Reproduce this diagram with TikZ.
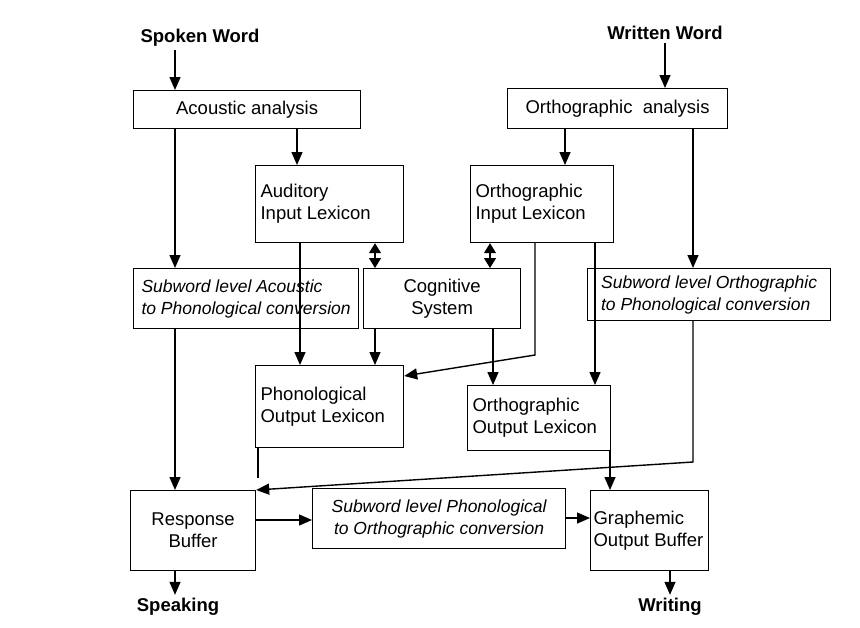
\documentclass[tikz,border=0pt]{standalone}
\usepackage{fontspec}
\setmainfont{Liberation Sans}
\usetikzlibrary{arrows.meta}
\begin{document}
\begin{tikzpicture}[x=1pt,y=-1pt,
  bx/.style={draw,line width=1.2pt,inner sep=0pt,font=\fontsize{18.5}{22}\selectfont},
  ibx/.style={bx,font=\fontsize{17.5}{22}\selectfont\itshape},
  ar/.style={line width=1.4pt,-{Triangle[length=13pt,width=11pt]}},
  dar/.style={line width=1.4pt,{Triangle[length=10pt,width=12pt]}-{Triangle[length=10pt,width=12pt]}},
  lbl/.style={font=\fontsize{18.5}{22}\selectfont\bfseries}]
\useasboundingbox (0,0) rectangle (860,627);
\node[lbl] (sw) at (200,38) {Spoken Word};
\node[lbl] (ww) at (665,33) {Written Word};
\node[lbl] (spk) at (178,607) {Speaking};
\node[lbl] (wri) at (670,607) {Writing};
\node[bx,anchor=north west,minimum width=227,minimum height=38] (aa) at (133,90) {Acoustic analysis};
\node[bx,anchor=north west,minimum width=220,minimum height=40] (oa) at (507,88) {Orthographic\ \ analysis};
\node[bx,anchor=north west,minimum width=148,minimum height=77,align=flush left,text width=138] (ail) at (255,165) {Auditory\\Input Lexicon};
\node[bx,anchor=north west,minimum width=143,minimum height=77,align=flush left,text width=133] (oil) at (470,165) {Orthographic\\Input Lexicon};
\node[ibx,anchor=north west,minimum width=225,minimum height=60,align=flush left] (swa) at (133,268) {Subword level Acoustic\\to Phonological conversion};
\node[ibx,anchor=north west,minimum width=243,minimum height=52,align=flush left] (swo) at (587,268) {Subword level Orthographic\\to Phonological conversion};
\node[bx,anchor=north west,minimum width=157,minimum height=60,align=center] (cs) at (363,268) {Cognitive\\System};
\node[bx,anchor=north west,minimum width=148,minimum height=82,align=flush left,text width=138] (pol) at (255,365) {Phonological\\Output Lexicon};
\node[bx,anchor=north west,minimum width=143,minimum height=65,align=flush left,text width=133] (ool) at (467,385) {Orthographic\\Output Lexicon};
\node[bx,anchor=north west,minimum width=125,minimum height=80,align=center] (rb) at (130,490) {Response\\Buffer};
\node[ibx,anchor=north west,minimum width=253,minimum height=60,align=center] (swp) at (312,488) {Subword level Phonological\\to Orthographic conversion};
\node[bx,anchor=north west,minimum width=118,minimum height=80,align=flush left,text width=112] (gob) at (590,490) {Graphemic\\Output Buffer};
\draw[ar] (sw.south -| 175,0) -- (aa.north -| 175,0);
\draw[ar] (ww.south) -- (oa.north -| 665,0);
\draw[ar] (aa.south -| 175,0) -- (swa.north -| 175,0);
\draw[ar] (aa.south -| 297,0) -- (ail.north -| 297,0);
\draw[ar] (oa.south -| 565,0) -- (oil.north -| 565,0);
\draw[ar] (oa.south -| 693,0) -- (swo.north -| 693,0);
\draw[ar] (ail.south -| 300,0) -- (pol.north -| 300,0);
\draw[dar] (ail.south -| 375,0) -- (cs.north -| 375,0);
\draw[dar] (oil.south -| 490,0) -- (cs.north -| 490,0);
\draw[ar] (cs.south -| 375,0) -- (pol.north -| 375,0);
\draw[ar] (cs.south -| 493,0) -- (ool.north -| 493,0);
\coordinate (k1) at (535,355);
\draw[ar] (oil.south -| 535,0) -- (k1) -- (pol.east |- 0,376);
\draw[ar] (oil.south -| 595,0) -- (ool.north -| 595,0);
\draw[ar] (swa.south -| 175,0) -- (rb.north -| 175,0);
\coordinate (k2) at (693,462);
\draw[ar] (swo.south -| 693,0) -- (k2) -- (rb.north east);
\coordinate (k3) at (258,478);
\draw[line width=1.4pt] (pol.south -| 258,0) -- (k3);
\draw[ar] (ool.south -| 610,0) -- (gob.north -| 610,0);
\draw[ar] (rb.east |- 0,520) -- (swp.west |- 0,520);
\draw[ar] (swp.east |- 0,518) -- (gob.west |- 0,518);
\draw[ar] (rb.south -| 175,0) -- (spk.north -| 175,0);
\draw[ar] (gob.south -| 670,0) -- (wri.north);
\end{tikzpicture}
\end{document}
